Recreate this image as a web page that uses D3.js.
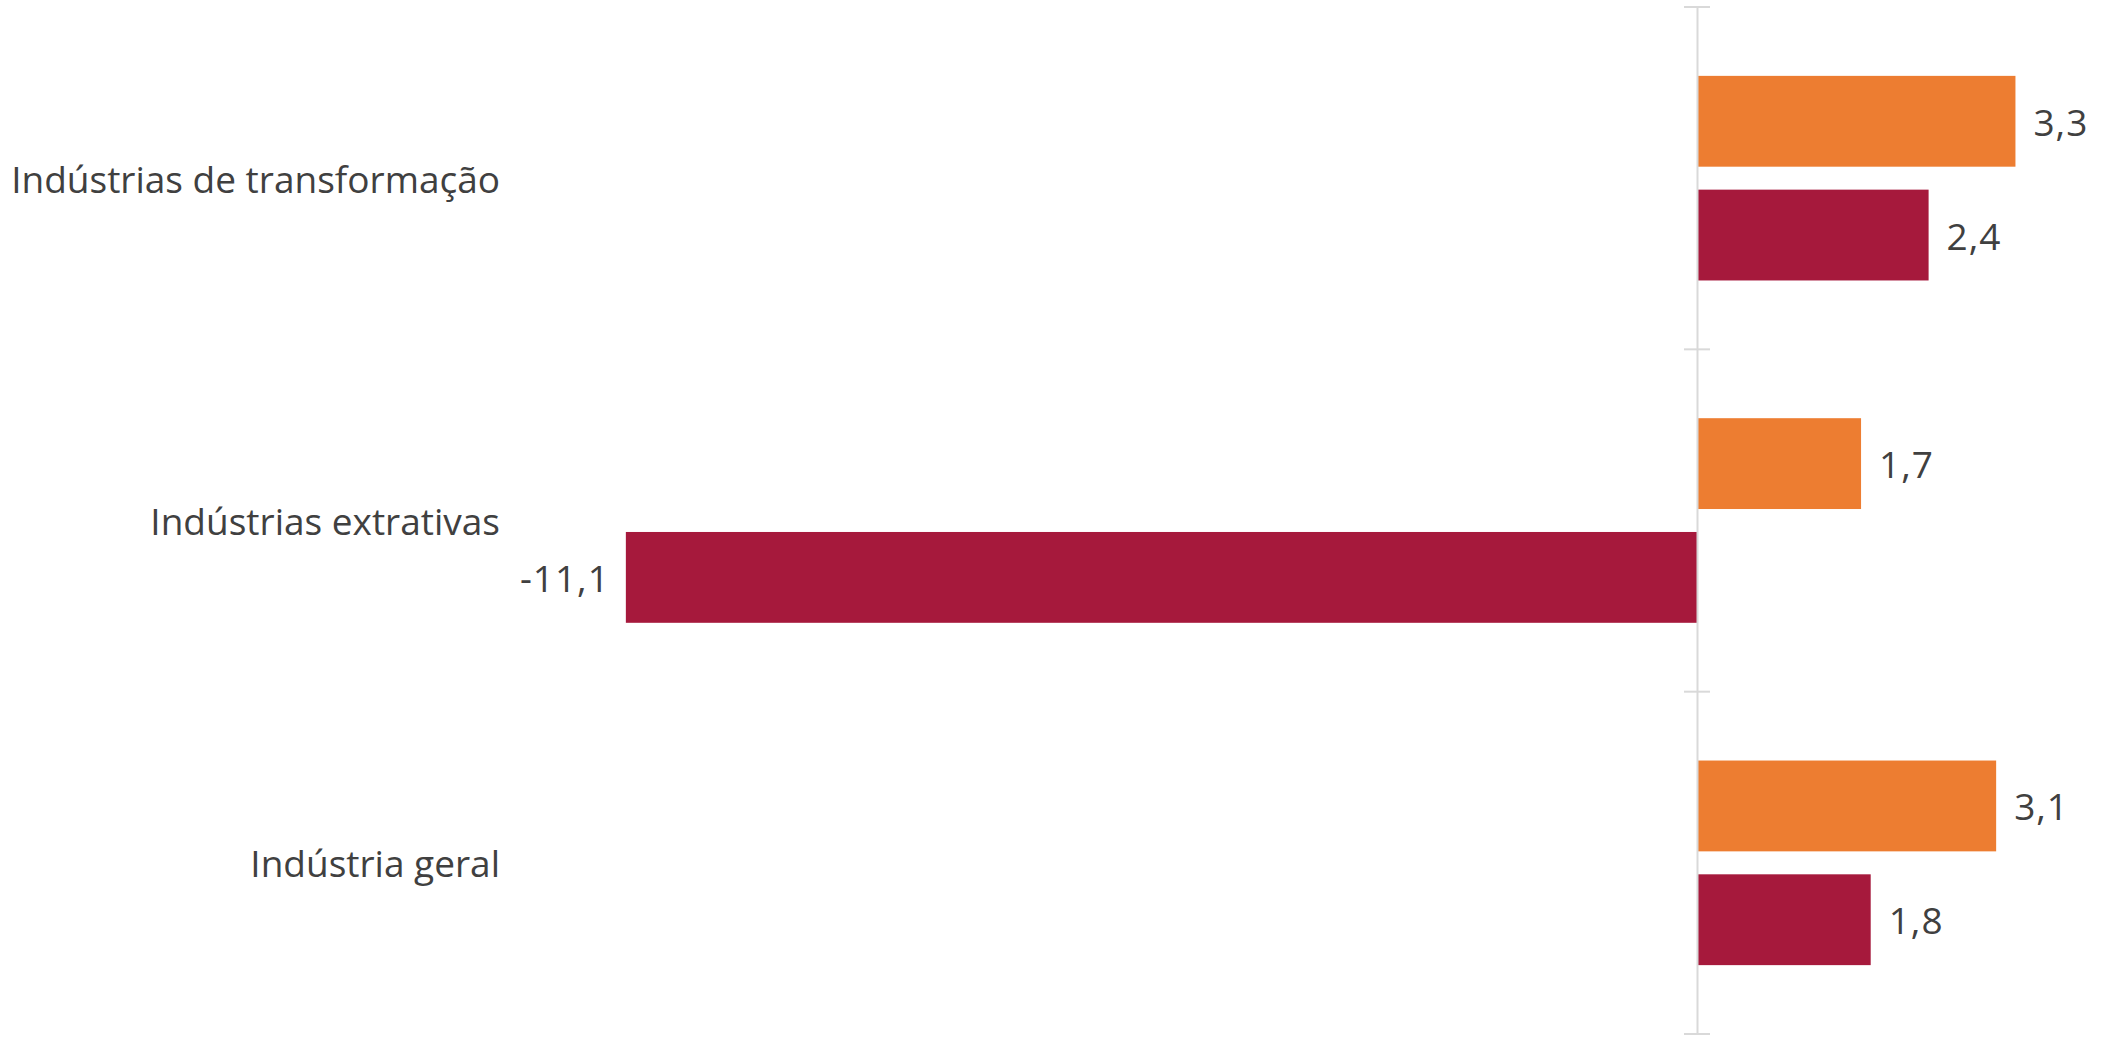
<!DOCTYPE html>
<html>
<head>
<meta charset="utf-8">
<script src="https://cdn.jsdelivr.net/npm/d3@7"></script>
<style>
  html, body { margin: 0; padding: 0; background: #fff; }
  svg { display: block; }
  text { font-family: "Open Sans", "Noto Sans", sans-serif; fill: #404040; }
</style>
</head>
<body>
<svg id="chart" width="2101" height="1037"></svg>
<script>
const categories = ["Indústrias de transformação", "Indústrias extrativas", "Indústria geral"];
const seriesNames = ["Série 1", "Série 2"];
const series1Values = [3.3, 1.7, 3.1];
const series2Values = [2.4, -11.1, 1.8];
const seriesColors = ["#ED7D31", "#A6193C"];

const svg = d3.select("#chart");

const x = d3.scaleLinear().domain([-12, 4]).range([1697 - 12 * 96.5, 1697 + 4 * 96.5]);
const y = d3.scaleBand().domain(categories).range([7, 1034]).paddingInner(0).paddingOuter(0);
const ySub = d3.scaleBand().domain(seriesNames).range([0, y.bandwidth()])
  .paddingInner(23 / 114).paddingOuter(69 / 114);

const data = [];
categories.forEach((c, i) => {
  data.push({ cat: c, s: seriesNames[0], v: series1Values[i], color: seriesColors[0] });
  data.push({ cat: c, s: seriesNames[1], v: series2Values[i], color: seriesColors[1] });
});

// bars
svg.append("g").selectAll("rect").data(data).join("rect")
  .attr("x", d => x(Math.min(0, d.v)))
  .attr("y", d => y(d.cat) + ySub(d.s))
  .attr("width", d => Math.abs(x(d.v) - x(0)))
  .attr("height", ySub.bandwidth())
  .attr("fill", d => d.color);

// axis at zero with tick marks between categories
const axisG = svg.append("g").attr("transform", `translate(${x(0)},0)`);
const axis = d3.axisLeft(y).tickSizeInner(0).tickSizeOuter(0).tickFormat("");
axisG.call(axis);
axisG.select(".domain").attr("stroke", "#d9d9d9").attr("stroke-width", 2);
axisG.selectAll(".tick").remove();
const boundaries = [y.range()[0]].concat(categories.map(c => y(c) + y.bandwidth()));
axisG.selectAll("line.b").data(boundaries).join("line").attr("class", "b")
  .attr("x1", -13).attr("x2", 13)
  .attr("y1", d => d).attr("y2", d => d)
  .attr("stroke", "#d9d9d9").attr("stroke-width", 2);

// category labels
svg.append("g").selectAll("text").data(categories).join("text")
  .attr("x", 500)
  .attr("y", c => y(c) + y.bandwidth() / 2)
  .attr("text-anchor", "end")
  .attr("dominant-baseline", "central")
  .style("font-size", "37px")
  .text(c => c);

// value labels
const fmt = v => d3.format(".1f")(v).replace(".", ",").replace("−", "-");
svg.append("g").selectAll("text").data(data).join("text")
  .attr("x", d => d.v >= 0 ? x(d.v) + 18 : x(d.v) - 16)
  .attr("y", d => y(d.cat) + ySub(d.s) + ySub.bandwidth() / 2)
  .attr("text-anchor", d => d.v >= 0 ? "start" : "end")
  .attr("dominant-baseline", "central")
  .style("font-size", "37px")
  .style("letter-spacing", "1px")
  .text(d => fmt(d.v));
</script>
</body>
</html>
